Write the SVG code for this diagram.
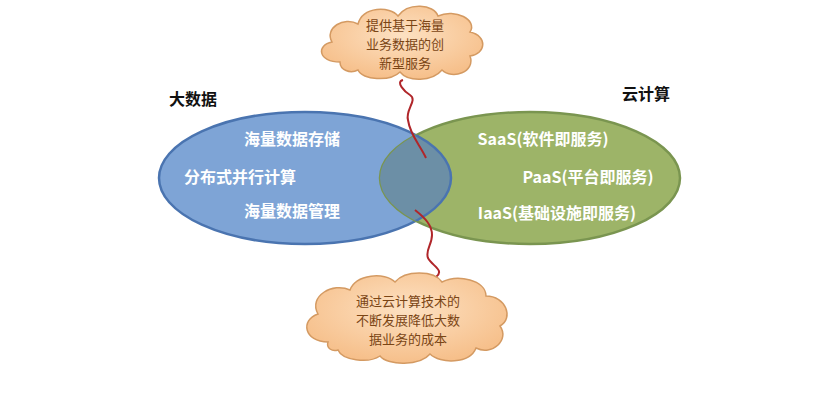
<svg xmlns="http://www.w3.org/2000/svg" width="826" height="408" viewBox="0 0 826 408">
<style>
.w{font-family:"Noto Sans CJK SC","Liberation Sans",sans-serif;font-weight:bold;font-size:16px;fill:#fff;text-anchor:middle}
.h{font-family:"Noto Sans CJK SC","Liberation Sans",sans-serif;font-weight:bold;font-size:16px;fill:#111;text-anchor:middle}
.c{font-family:"Noto Sans CJK SC","Liberation Sans",sans-serif;font-size:13px;fill:#7a4515;text-anchor:middle}
.cl{fill:url(#cg);stroke:#d49a62;stroke-width:1.5}
.sq{fill:none;stroke:#b0262a;stroke-width:2}
</style>
<defs>
<radialGradient id="cg" cx="50%" cy="40%" r="60%"><stop offset="0" stop-color="#fde1c2"/><stop offset="1" stop-color="#f6bf8a"/></radialGradient>
<clipPath id="gc"><ellipse cx="530" cy="178" rx="150" ry="66"/></clipPath>
</defs>
<rect width="826" height="408" fill="#fff"/>
<g id="bigdata">
<ellipse cx="305" cy="178" rx="146" ry="66" fill="#7ea4d6" stroke="#4a74b0" stroke-width="2.5"/>
</g>
<g id="cloudcomp">
<ellipse cx="530" cy="178" rx="150" ry="66" fill="#9db468" stroke="#7a9550" stroke-width="2.5"/>
<ellipse cx="305" cy="178" rx="146" ry="66" fill="#6c8fa6" clip-path="url(#gc)"/>
<ellipse cx="305" cy="178" rx="146" ry="66" fill="none" stroke="#4a74b0" stroke-width="2.5" clip-path="url(#gc)"/>
</g>
<text class="h" x="193" y="105">大数据</text>
<text class="h" x="646" y="100">云计算</text>
<text class="w" x="292" y="145">海量数据存储</text>
<text class="w" x="240" y="183">分布式并行计算</text>
<text class="w" x="292" y="217">海量数据管理</text>
<text class="w" x="543" y="145">SaaS(软件即服务)</text>
<text class="w" x="588" y="183">PaaS(平台即服务)</text>
<text class="w" x="557" y="219">IaaS(基础设施即服务)</text>
<g id="connectors">
<path class="sq" d="M403 80 C395 82 405 92 410 95 C418 100 405 110 408 120 C410 135 420 145 426 158"/>
<path class="sq" d="M415 210 C425 218 432 225 432 235 C432 245 425 250 428 258 C432 266 445 270 436 277"/>
</g>
<g id="cloud-top">
<path class="cl" d="M340 62 C318 62 316 45 332 42 C324 28 344 16 358 24 C363 6 390 6 398 16 C408 2 434 4 438 16 C455 8 478 20 470 32 C488 36 486 54 470 56 C476 72 452 80 442 70 C432 82 408 82 400 72 C390 82 362 80 358 70 C350 74 340 70 340 62 Z"/>
<text class="c" x="405" y="30">提供基于海量</text>
<text class="c" x="405" y="49">业务数据的创</text>
<text class="c" x="405" y="68">新型服务</text>
</g>
<g id="cloud-bottom">
<path class="cl" d="M328 342 C304 342 300 320 318 314 C308 296 333 282 350 290 C356 274 385 272 395 282 C405 270 434 270 442 282 C458 274 486 280 486 296 C506 296 514 318 500 326 C510 340 492 356 476 348 C470 364 440 364 430 354 C420 366 388 366 380 356 C368 364 342 360 338 350 C332 352 326 348 328 342 Z"/>
<text class="c" x="408" y="306">通过云计算技术的</text>
<text class="c" x="408" y="325">不断发展降低大数</text>
<text class="c" x="408" y="344">据业务的成本</text>
</g>
</svg>
